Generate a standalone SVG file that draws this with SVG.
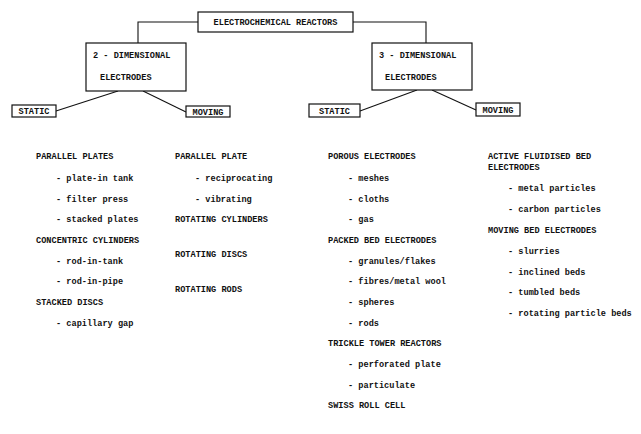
<svg xmlns="http://www.w3.org/2000/svg" width="641" height="434" viewBox="0 0 641 434">
<style>
.box{fill:#fff;stroke:#111;stroke-width:1.2}
.ln{fill:none;stroke:#111;stroke-width:1.1}
text{font-family:"Liberation Mono","DejaVu Sans Mono",monospace;font-weight:bold;font-size:8.6px;fill:#111}
.c{text-anchor:middle}
</style>
<rect width="641" height="434" fill="#fff"/>
<g id="connectors">
<polyline class="ln" points="198,22 138,22 138,43"/>
<polyline class="ln" points="353,22 426,22 426,43"/>
<line class="ln" x1="56" y1="111" x2="118" y2="91"/>
<line class="ln" x1="143" y1="91" x2="186" y2="112"/>
<line class="ln" x1="360" y1="111" x2="417" y2="90"/>
<line class="ln" x1="432" y1="90" x2="476" y2="110"/>
</g>
<g id="root">
<rect class="box" x="198" y="12" width="155" height="20"/>
<text class="c" x="275.5" y="25">ELECTROCHEMICAL REACTORS</text>
</g>
<g id="two-d">
<rect class="box" x="86" y="43" width="100" height="48"/>
<text x="93" y="58">2 - DIMENSIONAL</text>
<text x="100" y="80">ELECTRODES</text>
</g>
<g id="three-d">
<rect class="box" x="372" y="43" width="100" height="47"/>
<text x="379" y="58">3 - DIMENSIONAL</text>
<text x="385" y="80">ELECTRODES</text>
</g>
<g id="static-2d">
<rect class="box" x="12" y="105" width="44" height="12"/>
<text class="c" x="34" y="114">STATIC</text>
</g>
<g id="moving-2d">
<rect class="box" x="186" y="106" width="44" height="11"/>
<text class="c" x="208" y="114.5">MOVING</text>
</g>
<g id="static-3d">
<rect class="box" x="309" y="104" width="51" height="13"/>
<text class="c" x="334.5" y="113.5">STATIC</text>
</g>
<g id="moving-3d">
<rect class="box" x="476" y="103" width="44" height="13"/>
<text class="c" x="498" y="112.5">MOVING</text>
</g>
<g id="list-2d-static">
<text x="36" y="159">PARALLEL PLATES</text>
<text x="56" y="181">- plate-in tank</text>
<text x="56" y="202">- filter press</text>
<text x="56" y="222">- stacked plates</text>
<text x="36" y="243">CONCENTRIC CYLINDERS</text>
<text x="56" y="264">- rod-in-tank</text>
<text x="56" y="284">- rod-in-pipe</text>
<text x="36" y="305">STACKED DISCS</text>
<text x="56" y="326">- capillary gap</text>
</g>
<g id="list-2d-moving">
<text x="175" y="159">PARALLEL PLATE</text>
<text x="195" y="181">- reciprocating</text>
<text x="195" y="202">- vibrating</text>
<text x="175" y="222">ROTATING CYLINDERS</text>
<text x="175" y="257">ROTATING DISCS</text>
<text x="175" y="292">ROTATING RODS</text>
</g>
<g id="list-3d-static">
<text x="328" y="159">POROUS ELECTRODES</text>
<text x="348" y="181">- meshes</text>
<text x="348" y="202">- cloths</text>
<text x="348" y="222">- gas</text>
<text x="328" y="243">PACKED BED ELECTRODES</text>
<text x="348" y="264">- granules/flakes</text>
<text x="348" y="284">- fibres/metal wool</text>
<text x="348" y="305">- spheres</text>
<text x="348" y="326">- rods</text>
<text x="328" y="346">TRICKLE TOWER REACTORS</text>
<text x="348" y="367">- perforated plate</text>
<text x="348" y="388">- particulate</text>
<text x="328" y="408">SWISS ROLL CELL</text>
</g>
<g id="list-3d-moving">
<text x="488" y="159">ACTIVE FLUIDISED BED</text>
<text x="488" y="170">ELECTRODES</text>
<text x="508" y="191">- metal particles</text>
<text x="508" y="212">- carbon particles</text>
<text x="488" y="233">MOVING BED ELECTRODES</text>
<text x="508" y="254">- slurries</text>
<text x="508" y="275">- inclined beds</text>
<text x="508" y="295">- tumbled beds</text>
<text x="508" y="316">- rotating particle beds</text>
</g>
</svg>
